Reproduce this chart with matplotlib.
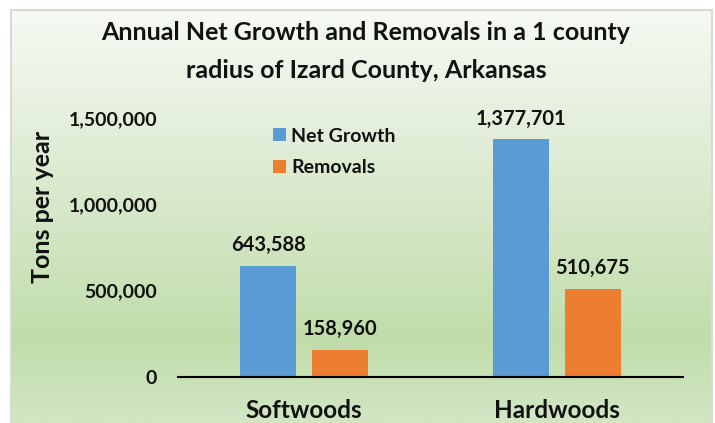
import matplotlib
matplotlib.use("Agg")
import matplotlib.pyplot as plt
import numpy as np
from matplotlib.patches import Rectangle
from matplotlib.colors import LinearSegmentedColormap

categories = ["Softwoods", "Hardwoods"]
series_names = ["Net Growth", "Removals"]
net_growth = [643588, 1377701]
removals = [158960, 510675]
y_ticks = [0, 500000, 1000000, 1500000]
y_tick_labels = ["0", "500,000", "1,000,000", "1,500,000"]

plt.rcParams['font.family'] = ['Lato', 'DejaVu Sans']
TXT = "#111111"

W, H = 715, 423
fig = plt.figure(figsize=(W / 100, H / 100), dpi=100)

# background gradient
bg = fig.add_axes([0, 0, 1, 1])
bg.set_xlim(0, W)
bg.set_ylim(H, 0)
bg.axis('off')
cmap = LinearSegmentedColormap.from_list(
    "g", [(0.0, "#f6faf3"), (0.25, "#e6f0de"), (0.8, "#c1ddab"), (1.0, "#d2e6c4")])
grad = np.linspace(0, 1, 256).reshape(-1, 1)
bg.imshow(grad, cmap=cmap, aspect='auto', extent=(11, 712, 423, 10), zorder=0)
bg.add_patch(Rectangle((11, 10), 701, 420, fill=False, edgecolor="#d9d9d9", lw=1.5, zorder=1))

# plot area: x 178..683, y 118..377 (px)
x0, x1, yt, yb = 178, 683, 118, 377
ax = fig.add_axes([x0 / W, 1 - yb / H, (x1 - x0) / W, (yb - yt) / H])
ax.patch.set_alpha(0)
ax.set_xlim(-0.5, 1.5)
ax.set_ylim(0, 1500000)

x = np.arange(len(categories))
bw = 0.222
off = 0.143
b1 = ax.bar(x - off, net_growth, bw, color="#5b9bd5", label=series_names[0], zorder=2, clip_on=False)
b2 = ax.bar(x + off, removals, bw, color="#ed7d31", label=series_names[1], zorder=2, clip_on=False)

for rects, vals in ((b1, net_growth), (b2, removals)):
    for r, v in zip(rects, vals):
        ax.annotate(f"{v:,}", (r.get_x() + r.get_width() / 2, v), xytext=(0, 10.5),
                    textcoords="offset points", ha='center', va='baseline',
                    fontsize=14.5, fontweight='bold', color=TXT, annotation_clip=False)

for s in ["top", "right", "left"]:
    ax.spines[s].set_visible(False)
ax.spines["bottom"].set_color("#000000")
ax.spines["bottom"].set_linewidth(1.5)
ax.set_yticks(y_ticks)
ax.set_yticklabels(y_tick_labels, fontsize=14, fontweight='bold', color=TXT)
ax.tick_params(axis='y', length=0, pad=15)
ax.set_xticks(x)
ax.set_xticklabels(categories, fontsize=17.5, fontweight='bold', color=TXT)
ax.tick_params(axis='x', length=0, pad=16)

fig.text(43 / W, 1 - 207 / H, "Tons per year", rotation=90, ha='center', va='center',
         fontsize=18, fontweight='bold', color=TXT)

fig.text(366 / W, 1 - 40 / H, "Annual Net Growth and Removals in a 1 county",
         ha='center', va='baseline', fontsize=18, fontweight='bold', color=TXT)
fig.text(366 / W, 1 - 78.5 / H, "radius of Izard County, Arkansas",
         ha='center', va='baseline', fontsize=18, fontweight='bold', color=TXT)

leg = fig.legend(handles=[b1, b2], labels=series_names, loc='upper left',
                 bbox_to_anchor=(255 / W, 1 - 110 / H), frameon=False,
                 prop={'weight': 'bold', 'size': 14},
                 handlelength=0.67, handleheight=0.67, handletextpad=0.3, labelspacing=0.76)
for t in leg.get_texts():
    t.set_color(TXT)

fig.savefig("out.png", dpi=100)
